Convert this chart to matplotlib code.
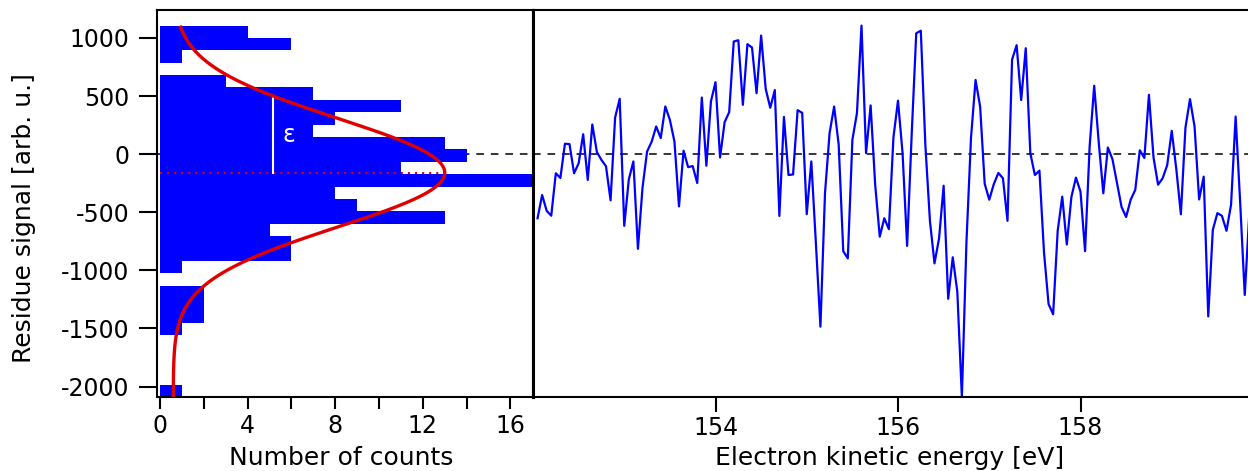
import numpy as np
import matplotlib
matplotlib.use("Agg")
import matplotlib.pyplot as plt

plt.rcParams['font.family'] = ['DejaVu Sans']
plt.rcParams['axes.unicode_minus'] = False

# fit residue of the spectrum, one value per energy step
residue = np.array([
    -552, -352, -488, -530, -165, -205, 89, 86, -165, -80,
    171, -222, 255, 18, -50, -105, -398, 315, 476, -617,
    -218, -63, -815, -290, 22, 106, 238, 138, 410, 295,
    109, -450, 29, -112, -103, -249, 487, -100, 453, 619,
    -29, 275, 361, 969, 980, 424, 946, 917, 524, 1020,
    562, 399, 551, -532, 320, -180, -175, 378, 355, -517,
    -63, -765, -1485, -335, 180, 409, 82, -835, -897, 122,
    352, 1106, 8, 419, -264, -710, -552, -646, 143, 460,
    8, -790, 170, 1040, 1062, 75, -575, -940, -725, -272,
    -1245, -888, -1183, -2090, -760, 140, 638, 409, -255, -392,
    -258, -162, -208, -574, 813, 937, 465, 911, 8, -180,
    -142, -845, -1290, -1378, -660, -366, -778, -370, -202, -323,
    -835, 64, 588, 100, -337, 57, -43, -250, -455, -541,
    -392, -308, 33, -33, 510, -28, -263, -208, -96, 200,
    -130, -518, 227, 473, 237, -390, -194, -1397, -652, -508,
    -531, -660, -435, 323, -420, -1212, -510, -540,
])
energy_start = 152.05   # eV
energy_step = 0.05      # eV
energy = energy_start + energy_step * np.arange(len(residue))

# gaussian fit of the residue distribution
g_offset = 0.6
g_amp = 12.4
g_center = -160
g_width = 660   # epsilon

n_bins = 30
hist_ticks = [0, 4, 8, 12, 16]
hist_minor = [2, 6, 10, 14]
energy_ticks = [154, 156, 158]
y_ticks = [1000, 500, 0, -500, -1000, -1500, -2000]


def gauss(y):
    return g_offset + g_amp * np.exp(-((y - g_center) / g_width) ** 2)


W, H = 1248, 471
fig = plt.figure(figsize=(W / 100, H / 100), dpi=100)
ax_h = fig.add_axes([157 / W, 74 / H, 376 / W, 387 / H])
ax_r = fig.add_axes([533 / W, 74 / H, 730 / W, 387 / H], sharey=ax_h)

blue = '#0000ff'
red = '#e00000'

# histogram of the residue
ax_h.axhline(0, color='k', lw=1.1, ls=(0, (5, 4.5)), zorder=1)
ax_h.hist(residue, bins=n_bins, orientation='horizontal', color=blue, zorder=2)

yy = np.linspace(residue.min(), residue.max(), 500)
ax_h.plot(gauss(yy), yy, color=red, lw=2.4, zorder=5, solid_capstyle='butt')
ax_h.plot([0, gauss(g_center)], [g_center, g_center], color=red, lw=1.5,
          ls=(0, (1, 2.4)), zorder=4)
x_eps = gauss(g_center + g_width)
ax_h.plot([x_eps, x_eps], [g_center, g_center + g_width], color='white',
          lw=1.5, zorder=4)
ax_h.text(x_eps + 0.7, 166, 'ε', color='white', fontsize=17,
          ha='center', va='center', zorder=6)

ax_h.set_xlim(-0.14, 17.03)
ax_h.set_ylim(-2090, 1240)
ax_h.set_xticks(hist_ticks)
ax_h.set_xticks(hist_minor, minor=True)
ax_h.set_yticks(y_ticks)
ax_h.tick_params(axis='x', which='both', direction='out', length=8.5,
                 width=1.5, pad=3.5, labelsize=17)
ax_h.tick_params(axis='y', direction='out', length=13, width=1.5, pad=7,
                 labelsize=17)
for side in ['left', 'bottom', 'top']:
    ax_h.spines[side].set_linewidth(1.5)
ax_h.spines['right'].set_linewidth(2.2)

# residue vs energy
ax_r.axhline(0, color='k', lw=1.1, ls=(0, (5, 4.5)), zorder=1)
ax_r.plot(energy, residue, color=blue, lw=1.6, zorder=2)
ax_r.set_xlim(152, 160)
ax_r.set_xticks(energy_ticks)
ax_r.tick_params(axis='x', direction='out', length=11, width=1.5, pad=3,
                 labelsize=17)
ax_r.tick_params(axis='y', left=False, labelleft=False)
ax_r.spines['left'].set_linewidth(2.2)
for side in ['bottom', 'top']:
    ax_r.spines[side].set_linewidth(1.5)
ax_r.spines['right'].set_visible(False)

fig.text(31 / W, 1 - 218.5 / H, 'Residue signal [arb. u.]', rotation=90,
         rotation_mode='anchor', ha='center', va='baseline', fontsize=18)
fig.text(341 / W, 6 / H, 'Number of counts', ha='center', va='baseline',
         fontsize=18)
fig.text(890 / W, 6 / H, 'Electron kinetic energy [eV]', ha='center',
         va='baseline', fontsize=18)

fig.savefig('out.png', dpi=100)
